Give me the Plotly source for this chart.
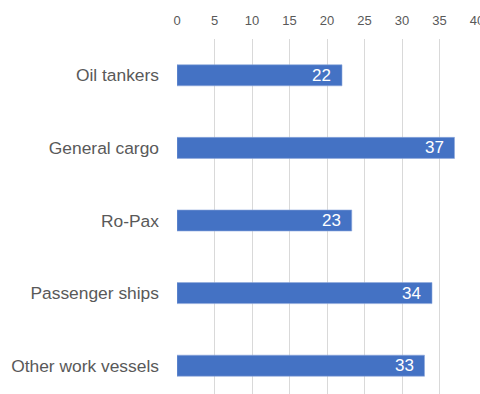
import plotly.graph_objects as go

categories = ["Oil tankers", "General cargo", "Ro-Pax", "Passenger ships", "Other work vessels"]
values = [22, 37, 23.3, 34, 33]
labels = ["22", "37", "23", "34", "33"]
x_ticks = [0, 5, 10, 15, 20, 25, 30, 35, 40]

FONT = "Liberation Sans, Arial, sans-serif"

fig = go.Figure()
fig.add_trace(go.Bar(
    x=values,
    y=categories,
    orientation="h",
    marker=dict(color="#4472C4", line=dict(color="#8FAADC", width=0.6)),
    hoverinfo="skip",
))

for v, c, t in zip(values, categories, labels):
    fig.add_annotation(
        x=v, y=c, text=t, showarrow=False,
        xanchor="right", yanchor="middle", xshift=-9,
        font=dict(family=FONT, size=17, color="white"),
    )

fig.update_layout(
    width=480, height=394,
    margin=dict(l=177, r=3, t=39, b=0),
    paper_bgcolor="white", plot_bgcolor="white",
    bargap=0.71,
    showlegend=False,
    font=dict(family=FONT, color="#595959"),
)
fig.update_xaxes(
    side="top", range=[0, 40], tickvals=x_ticks,
    showgrid=True, gridcolor="#D9D9D9", gridwidth=1,
    zeroline=False, showline=False, ticks="",
    tickfont=dict(size=13, color="#595959"),
    ticklabelstandoff=10,
    ticklabeloverflow="allow",
    automargin=False,
    fixedrange=True,
)
fig.update_yaxes(
    categoryorder="array", categoryarray=categories,
    range=[4.39, -0.5],
    showgrid=False, zeroline=False, showline=False, ticks="",
    tickfont=dict(size=17.4, color="#595959"),
    ticklabelstandoff=17,
    automargin=False,
    fixedrange=True,
)

fig.write_html(
    "out.html",
    config={"displayModeBar": False},
    post_script="document.body.style.margin='0';document.body.style.overflow='hidden';",
)
